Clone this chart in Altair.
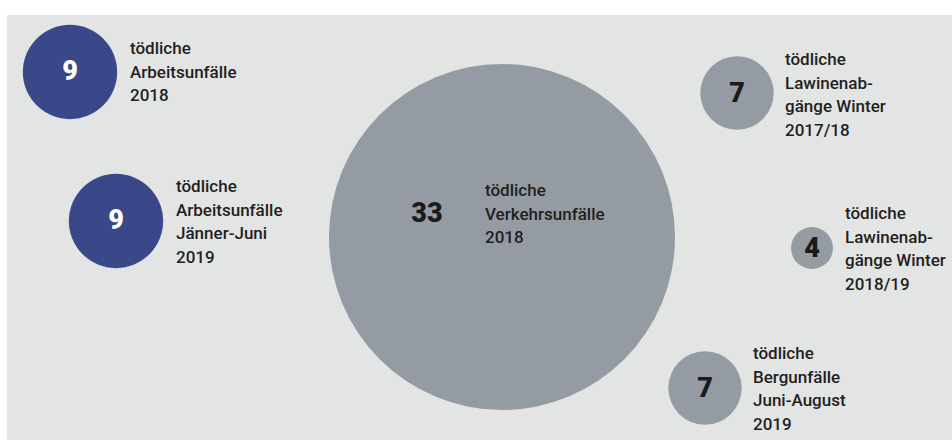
import altair as alt
import pandas as pd

# data
values = [9, 9, 33, 7, 4, 7]
groups = ["Arbeit", "Arbeit", "Verkehr", "Lawinen", "Lawinen", "Berg"]
labels = [
    "tödliche\nArbeitsunfälle\n2018",
    "tödliche\nArbeitsunfälle\nJänner-Juni\n2019",
    "tödliche\nVerkehrsunfälle\n2018",
    "tödliche\nLawinenab-\ngänge Winter\n2017/18",
    "tödliche\nLawinenab-\ngänge Winter\n2018/19",
    "tödliche\nBergunfälle\nJuni-August\n2019",
]

# layout (bubble placement in pixel space)
cx = [70, 116, 502, 737, 812, 705]
cy = [72, 221, 237, 93, 248, 388]
num_x = [70, 116, 427, 737, 812, 705]
num_y = [72, 221, 214, 94, 249, 389]
lab_x = [130, 176, 485, 785, 845, 753]
lab_y = [49, 187, 191, 60, 214, 354]

df = pd.DataFrame({
    "value": values, "group": groups, "label": labels,
    "cx": cx, "cy": cy, "nx": num_x, "ny": num_y, "lx": lab_x, "ly": lab_y,
    "numcolor": ["white" if g == "Arbeit" else "#1a1a1a" for g in groups],
})

W, H = 952, 440
xs = alt.Scale(domain=[0, W], range=[0, W])
ys = alt.Scale(domain=[0, H], range=[0, H])

bg = alt.Chart(df).mark_rect(color="#e3e5e4").encode(
    x=alt.value(7), x2=alt.value(W), y=alt.value(15), y2=alt.value(H)
)

circles = alt.Chart(df).mark_circle(opacity=1).encode(
    x=alt.X("cx:Q", scale=xs, axis=None),
    y=alt.Y("cy:Q", scale=ys, axis=None),
    size=alt.Size("value:Q", scale=alt.Scale(type="pow", exponent=2, domain=[0, 33], range=[0, 346 ** 2]), legend=None),
    color=alt.Color("group:N", scale=alt.Scale(domain=["Arbeit", "Verkehr", "Lawinen", "Berg"],
                                                range=["#3a4889", "#959ba2", "#959ba2", "#959ba2"]), legend=None),
)

numbers = alt.Chart(df).mark_text(font="Roboto", fontWeight=900, fontSize=27, align="center", baseline="middle").encode(
    x=alt.X("nx:Q", scale=xs, axis=None),
    y=alt.Y("ny:Q", scale=ys, axis=None),
    text=alt.Text("value:Q"),
    color=alt.Color("numcolor:N", scale=None),
)

texts = alt.Chart(df).mark_text(font="Roboto", fontWeight=500, fontSize=17, align="left", baseline="middle",
                                lineBreak="\n", lineHeight=23.7, color="#1f1f1f").encode(
    x=alt.X("lx:Q", scale=xs, axis=None),
    y=alt.Y("ly:Q", scale=ys, axis=None),
    text="label:N",
)

chart = alt.layer(bg, circles, numbers, texts).properties(
    width=W, height=H, padding=0, autosize=alt.AutoSizeParams(type="none"), background="white"
).configure_view(stroke=None)

chart.save("out.html", embed_options={"renderer": "svg", "actions": False})
